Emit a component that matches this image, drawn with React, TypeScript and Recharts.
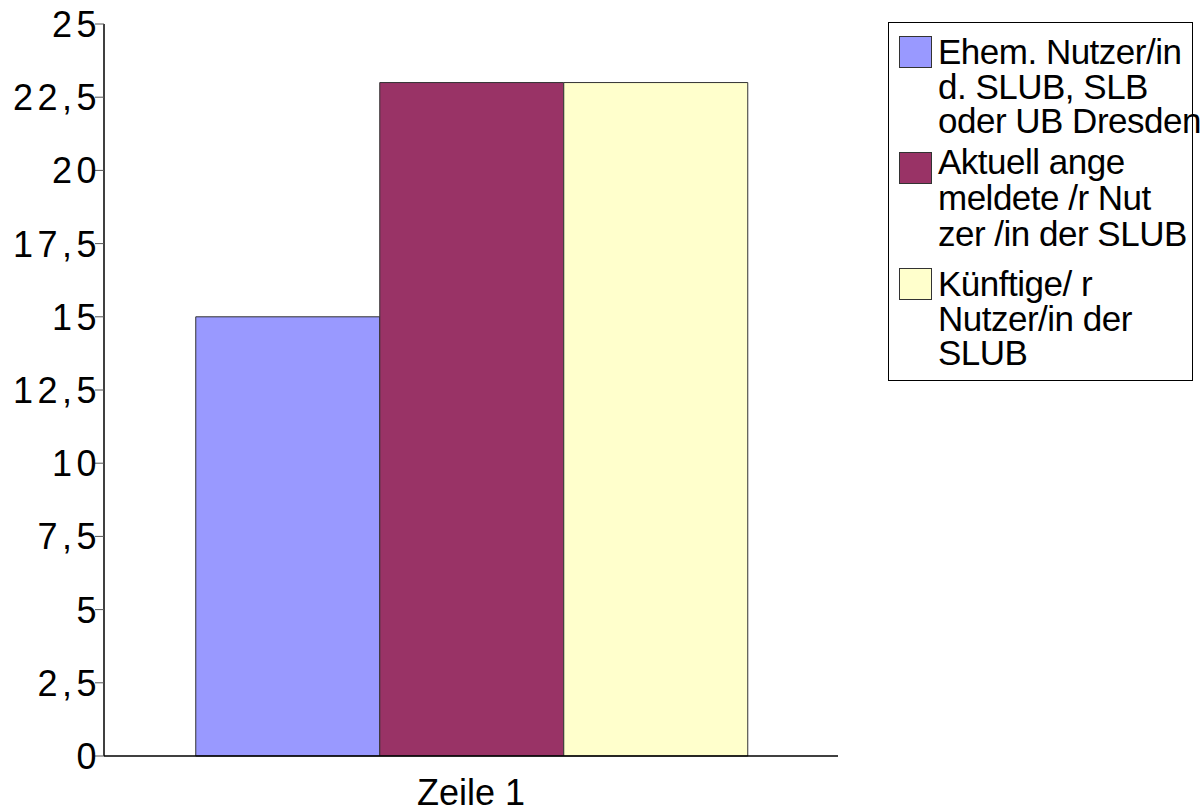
import React from "react";
import { BarChart, Bar, XAxis, YAxis } from "recharts";

const categories = ["Zeile 1"];
const seriesNames = [
  "Ehem. Nutzer/in d. SLUB, SLB oder UB Dresden",
  "Aktuell angemeldete/r Nutzer/in der SLUB",
  "Künftige/r Nutzer/in der SLUB",
];
const seriesValues = [15, 23, 23];
const seriesColors = ["#9999ff", "#993366", "#ffffcc"];
const legendLines = [
  ["Ehem. Nutzer/in", "d. SLUB, SLB", "oder UB Dresden"],
  ["Aktuell ange", "meldete /r Nut", "zer /in der SLUB"],
  ["Künftige/ r", "Nutzer/in der", "SLUB"],
];
const yTicks = [0, 2.5, 5, 7.5, 10, 12.5, 15, 17.5, 20, 22.5, 25];

const data = categories.map((c) => {
  const row: Record<string, any> = { name: c };
  seriesNames.forEach((s, i) => {
    row["s" + i] = seriesValues[i];
  });
  return row;
});

const FONT = "'Liberation Sans', Arial, sans-serif";

const YTick = (props: any) => {
  const { y, payload } = props;
  const label = String(payload.value).replace(".", ",");
  return (
    <text
      x={101}
      y={y}
      dy={13}
      textAnchor="end"
      fontFamily={FONT}
      fontSize={36}
      letterSpacing={4.5}
      fill="#000"
    >
      {label}
    </text>
  );
};

const XTick = (props: any) => {
  const { x, payload } = props;
  return (
    <text
      x={x}
      y={805}
      textAnchor="middle"
      fontFamily={FONT}
      fontSize={36}
      fill="#000"
    >
      {payload.value}
    </text>
  );
};

// legend layout (relative to the legend box at left 888, top 22)
const swatchTops = [14, 130, 246];
const lineBaselines = [
  [42, 76.5, 111],
  [152, 188, 224],
  [274, 309, 343],
];

const LegendBox = () => {
  return (
    <svg
      width={305}
      height={359}
      style={{ overflow: "visible", display: "block", position: "absolute", left: 888, top: 22 }}
    >
      <defs>
        <clipPath id="legclip">
          <rect x={0} y={0} width={303} height={359} />
        </clipPath>
      </defs>
      <rect x={0.5} y={0.5} width={304} height={358} fill="#fff" stroke="#000" strokeWidth={1} />
      {legendLines.map((lines, i) => (
        <g key={i}>
          <rect
            x={11.5}
            y={swatchTops[i] + 0.5}
            width={32}
            height={31}
            fill={seriesColors[i]}
            stroke="#333"
            strokeWidth={1}
          />
          {lines.map((ln, j) => (
            <text
              key={j}
              x={50}
              y={lineBaselines[i][j]}
              fontFamily={FONT}
              fontSize={35}
              letterSpacing={-0.5}
              fill="#000"
              clipPath={i === 1 ? "url(#legclip)" : undefined}
            >
              {ln}
            </text>
          ))}
        </g>
      ))}
    </svg>
  );
};

export default function App() {
  return (
    <div style={{ position: "absolute", left: 0, top: 0, width: 1203, height: 812, background: "#fff" }}>
      <BarChart
        width={1203}
        height={812}
        data={data}
        margin={{ top: 24, right: 365, bottom: 0, left: 0 }}
        barCategoryGap="12.5%"
        barGap={0}
        style={{ overflow: "visible" }}
      >
        <XAxis
          dataKey="name"
          height={56}
          axisLine={{ stroke: "#000", strokeWidth: 1.5 }}
          tickLine={false}
          tick={<XTick />}
          interval={0}
        />
        <YAxis
          width={104}
          domain={[0, 25]}
          ticks={yTicks}
          interval={0}
          axisLine={{ stroke: "#000", strokeWidth: 1.5 }}
          tickLine={{ stroke: "#555", strokeWidth: 1 }}
          tickSize={9}
          tick={<YTick />}
        />
        {seriesNames.map((s, i) => (
          <Bar
            key={s}
            dataKey={"s" + i}
            name={s}
            fill={seriesColors[i]}
            stroke="#333"
            strokeWidth={1}
            isAnimationActive={false}
          />
        ))}
      </BarChart>
      <LegendBox />
    </div>
  );
}
